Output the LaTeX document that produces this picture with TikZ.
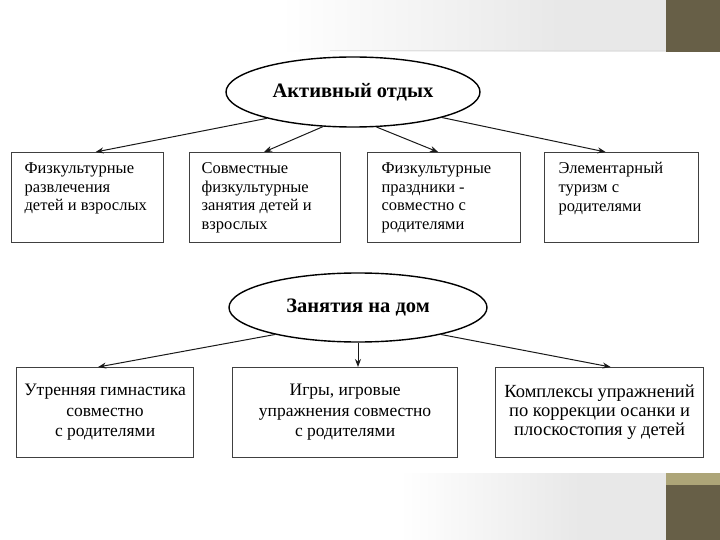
\documentclass[tikz,border=0pt]{standalone}
\usepackage{fontspec}
\setmainfont{Liberation Serif}
\usetikzlibrary{shapes.geometric,arrows.meta,calc}
\definecolor{olive}{HTML}{675F47}
\definecolor{tan}{HTML}{ADA578}
\definecolor{bandgray}{HTML}{E8E8E8}
\begin{document}
\begin{tikzpicture}[x=1pt,y=-1pt,
  oval/.style={ellipse,draw=black,line width=1.4pt,fill=white,inner sep=0pt,
     font=\fontsize{20.5}{24}\selectfont\bfseries},
  topbox/.style={draw=black!75,line width=1.2pt,fill=white,inner sep=0pt,
     font=\fontsize{16.5}{18.7}\selectfont},
  botbox/.style={draw=black!75,line width=1.2pt,fill=white,inner sep=0pt,align=center,
     font=\fontsize{17.5}{20.5}\selectfont},
  conn/.style={draw=black!90,line width=1pt,-{Stealth[length=8pt,width=6pt]}}]
\useasboundingbox (0,0) rectangle (720,540);
% slide background
\fill[white] (0,0) rectangle (720,540);
\shade[left color=white,right color=bandgray] (280,0) rectangle (560,52);
\fill[bandgray] (560,0) rectangle (666,52);
\draw[black!12,line width=0.6pt] (330,50) -- (666,50);
\fill[olive] (666,0) rectangle (720,52);
\shade[left color=white,right color=bandgray] (400,473) rectangle (580,540);
\fill[bandgray] (580,473) rectangle (666,540);
\fill[olive] (666,473) rectangle (720,540);
\fill[tan] (666,473) rectangle (720,485);
% top part
\node[oval,minimum width=254pt,minimum height=70pt] (e1) at (353,92) {Активный отдых};
\node[topbox,anchor=north west] (b1) at (11,152)
  {\parbox[c][90pt][t]{152pt}{\vspace{10pt}\leftskip=13pt Физкультурные\\развлечения\\детей и взрослых}};
\node[topbox,anchor=north west] (b2) at (189,152)
  {\parbox[c][90pt][t]{151pt}{\vspace{10pt}\leftskip=12pt Совместные\\физкультурные\\занятия детей и\\взрослых}};
\node[topbox,anchor=north west] (b3) at (367,152)
  {\parbox[c][90pt][t]{153pt}{\vspace{10pt}\leftskip=14pt Физкультурные\\праздники -\\совместно с\\родителями}};
\node[topbox,anchor=north west] (b4) at (544,152)
  {\parbox[c][90pt][t]{154pt}{\vspace{10pt}\leftskip=14pt Элементарный\\туризм с\\родителями}};
\draw[conn] (e1.197) -- ($(b1.north)+(8,0)$);
\draw[conn] (e1.229) -- ($(b2.north)+(-1,0)$);
\draw[conn] (e1.304) -- ($(b3.north)+(-6,0)$);
\draw[conn] (e1.344) -- ($(b4.north)+(-16,0)$);
% bottom part
\node[oval,minimum width=258pt,minimum height=69pt] (e2) at (358,307.5) {Занятия на дом};
\node[botbox,anchor=north west,minimum width=177pt,minimum height=90pt] (c1) at (16,367)
  {Утренняя гимнастика\\совместно\\с родителями};
\node[botbox,anchor=north west,minimum width=225pt,minimum height=90pt] (c2) at (232,367)
  {Игры, игровые\\упражнения совместно\\с родителями};
\node[botbox,anchor=north west,minimum width=208pt,minimum height=90pt,
  font=\fontsize{18.5}{19}\selectfont] (c3) at (495,367)
  {Комплексы упражнений\\по коррекции осанки и\\плоскостопия у детей};
\draw[conn] (e2.198) -- ($(c1.north)+(-7,0)$);
\draw[conn] (e2.south) -- (e2.south |- c2.north);
\draw[conn] (e2.342) -- ($(c3.north)+(11,0)$);
\end{tikzpicture}
\end{document}
